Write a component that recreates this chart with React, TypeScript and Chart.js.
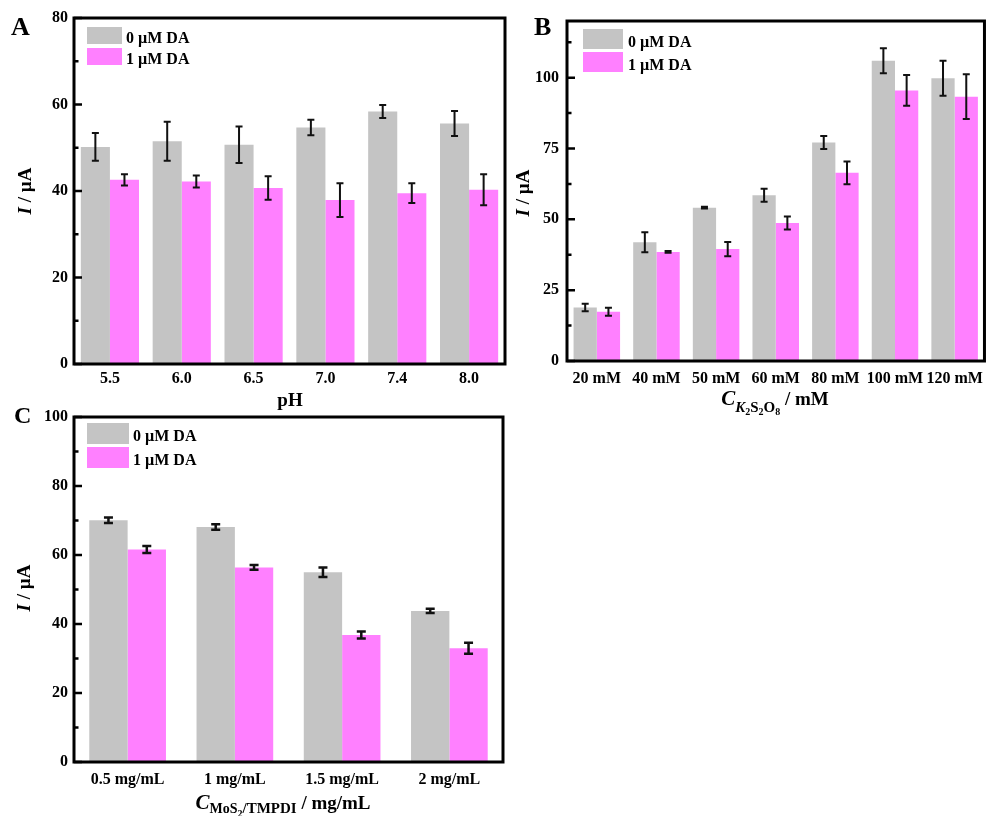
import React, { useEffect, useRef } from 'react';
import { Chart, registerables } from 'chart.js';

Chart.register(...registerables);

// ---------------- DATA ----------------
const seriesNames = ['0 µM DA', '1 µM DA'];

// Panel A : pH
const phLabels = ['5.5', '6.0', '6.5', '7.0', '7.4', '8.0'];
const ph0 = [50.2, 51.5, 50.7, 54.7, 58.4, 55.6];
const ph0Err = [3.2, 4.5, 4.2, 1.8, 1.5, 2.9];
const ph1 = [42.6, 42.2, 40.7, 37.9, 39.5, 40.3];
const ph1Err = [1.3, 1.4, 2.7, 3.9, 2.3, 3.6];
const phYTicks = [0, 20, 40, 60, 80];

// Panel B : K2S2O8 concentration
const kLabels = ['20 mM', '40 mM', '50 mM', '60 mM', '80 mM', '100 mM', '120 mM'];
const k0 = [18.9, 41.9, 54.1, 58.5, 77.1, 106.0, 99.8];
const k0Err = [1.3, 3.5, 0.3, 2.3, 2.3, 4.4, 6.2];
const k1 = [17.4, 38.5, 39.5, 48.7, 66.4, 95.5, 93.3];
const k1Err = [1.4, 0.3, 2.5, 2.3, 4.0, 5.4, 7.9];
const kYTicks = [0, 25, 50, 75, 100];

// Panel C : MoS2/TMPDI concentration
const mLabels = ['0.5 mg/mL', '1 mg/mL', '1.5 mg/mL', '2 mg/mL'];
const m0 = [70.1, 68.1, 55.0, 43.8];
const m0Err = [0.8, 0.8, 1.4, 0.6];
const m1 = [61.6, 56.4, 36.8, 33.0];
const m1Err = [1.0, 0.7, 1.0, 1.6];
const mYTicks = [0, 20, 40, 60, 80, 100];

// ---------------- STYLE ----------------
const FONT = "'Liberation Serif', 'Times New Roman', Times, serif";
const GRAY = '#c4c4c4';
const PINK = '#ff80ff';

type Seg = { t: string; f: string; dy: number };

type PanelCfg = {
  key: string;
  letter: string;
  letterX: number;
  letterY: number;
  letterSize: number;
  labels: string[];
  s0: number[];
  e0: number[];
  s1: number[];
  e1: number[];
  yTicks: number[];
  yMax: number;
  canvas: { x: number; y: number; w: number; h: number };
  area: { left: number; top: number; right: number; bottom: number };
  catPct: number;
  xPad: number;
  yPad: number;
  cap: number;
  errLW: number;
  legend: { left: number; top: number; w: number; h: number; step: number; textDx: number; baseDy: number };
  yTitle: { x: number; y: number };
  xTitle: { cx: number; base: number; segs: Seg[] };
};

const panels: PanelCfg[] = [
  {
    key: 'A',
    letter: 'A',
    letterX: 11,
    letterY: 35,
    letterSize: 26,
    labels: phLabels,
    s0: ph0,
    e0: ph0Err,
    s1: ph1,
    e1: ph1Err,
    yTicks: phYTicks,
    yMax: 80,
    canvas: { x: 0, y: 0, w: 510, h: 412 },
    area: { left: 74, top: 18, right: 505, bottom: 364 },
    catPct: 0.81,
    xPad: 5,
    yPad: 6,
    cap: 3.5,
    errLW: 2,
    legend: { left: 87, top: 27, w: 35, h: 17, step: 21, textDx: 4, baseDy: 16 },
    yTitle: { x: 31, y: 191 },
    xTitle: { cx: 290, base: 406, segs: [{ t: 'pH', f: `bold 19px ${FONT}`, dy: 0 }] },
  },
  {
    key: 'B',
    letter: 'B',
    letterX: 534,
    letterY: 35,
    letterSize: 26,
    labels: kLabels,
    s0: k0,
    e0: k0Err,
    s1: k1,
    e1: k1Err,
    yTicks: kYTicks,
    yMax: 120,
    canvas: { x: 510, y: 0, w: 481, h: 415 },
    area: { left: 567, top: 21, right: 989, bottom: 361 },
    catPct: 0.78,
    xPad: 8,
    yPad: 8,
    cap: 3.5,
    errLW: 2,
    legend: { left: 583, top: 29, w: 40, h: 20, step: 23, textDx: 5, baseDy: 18 },
    yTitle: { x: 529, y: 193 },
    xTitle: {
      cx: 775,
      base: 405,
      segs: [
        { t: 'C', f: `italic bold 21px ${FONT}`, dy: 0 },
        { t: 'K', f: `italic bold 15px ${FONT}`, dy: 7 },
        { t: '2', f: `bold 10px ${FONT}`, dy: 10 },
        { t: 'S', f: `bold 15px ${FONT}`, dy: 7 },
        { t: '2', f: `bold 10px ${FONT}`, dy: 10 },
        { t: 'O', f: `bold 15px ${FONT}`, dy: 7 },
        { t: '8', f: `bold 10px ${FONT}`, dy: 10 },
        { t: ' / mM', f: `bold 19px ${FONT}`, dy: 0 },
      ],
    },
  },
  {
    key: 'C',
    letter: 'C',
    letterX: 14,
    letterY: 423,
    letterSize: 24,
    labels: mLabels,
    s0: m0,
    e0: m0Err,
    s1: m1,
    e1: m1Err,
    yTicks: mYTicks,
    yMax: 100,
    canvas: { x: 0, y: 398, w: 510, h: 418 },
    area: { left: 74, top: 417, right: 503, bottom: 762 },
    catPct: 0.715,
    xPad: 8,
    yPad: 6,
    cap: 4.5,
    errLW: 2.5,
    legend: { left: 87, top: 423, w: 42, h: 21, step: 24, textDx: 4, baseDy: 18 },
    yTitle: { x: 30, y: 588 },
    xTitle: {
      cx: 283,
      base: 809,
      segs: [
        { t: 'C', f: `italic bold 21px ${FONT}`, dy: 0 },
        { t: 'MoS', f: `bold 14px ${FONT}`, dy: 4 },
        { t: '2', f: `bold 10px ${FONT}`, dy: 8 },
        { t: '/TMPDI', f: `bold 15px ${FONT}`, dy: 4 },
        { t: ' / mg/mL', f: `bold 19px ${FONT}`, dy: 0 },
      ],
    },
  },
];

function drawSegs(ctx: CanvasRenderingContext2D, segs: Seg[], startX: number, base: number) {
  let x = startX;
  segs.forEach((s) => {
    ctx.font = s.f;
    ctx.fillText(s.t, x, base + s.dy);
    x += ctx.measureText(s.t).width;
  });
}

function segsWidth(ctx: CanvasRenderingContext2D, segs: Seg[]) {
  let w = 0;
  segs.forEach((s) => {
    ctx.font = s.f;
    w += ctx.measureText(s.t).width;
  });
  return w;
}

function makeDecor(p: PanelCfg) {
  const ox = p.canvas.x;
  const oy = p.canvas.y;
  return {
    id: 'decor' + p.key,
    afterDatasetsDraw(chart: any) {
      const ctx: CanvasRenderingContext2D = chart.ctx;
      const ys = chart.scales.y;
      ctx.save();
      ctx.strokeStyle = '#111';
      ctx.lineWidth = p.errLW;
      chart.data.datasets.forEach((ds: any, i: number) => {
        const meta = chart.getDatasetMeta(i);
        meta.data.forEach((el: any, j: number) => {
          const v = ds.data[j];
          const e = ds.errors[j];
          const yt = ys.getPixelForValue(v + e);
          const yb = ys.getPixelForValue(v - e);
          const x = el.x;
          ctx.beginPath();
          ctx.moveTo(x, yt);
          ctx.lineTo(x, yb);
          ctx.moveTo(x - p.cap, yt);
          ctx.lineTo(x + p.cap, yt);
          ctx.moveTo(x - p.cap, yb);
          ctx.lineTo(x + p.cap, yb);
          ctx.stroke();
        });
      });
      ctx.restore();
    },
    afterDraw(chart: any) {
      const ctx: CanvasRenderingContext2D = chart.ctx;
      const a = chart.chartArea;
      const ys = chart.scales.y;
      ctx.save();
      // frame
      ctx.strokeStyle = '#000';
      ctx.lineWidth = 3;
      ctx.strokeRect(a.left, a.top, a.right - a.left, a.bottom - a.top);
      // inward ticks (major + minor)
      ctx.lineWidth = 2.5;
      const tv = p.yTicks;
      ctx.beginPath();
      tv.forEach((v) => {
        const y = ys.getPixelForValue(v);
        ctx.moveTo(a.left, y);
        ctx.lineTo(a.left + 8, y);
      });
      const step = tv[1] - tv[0];
      for (let v = tv[0] + step / 2; v < p.yMax; v += step) {
        const y = ys.getPixelForValue(v);
        ctx.moveTo(a.left, y);
        ctx.lineTo(a.left + 4.5, y);
      }
      ctx.stroke();

      // legend
      const L = p.legend;
      const cols = [GRAY, PINK];
      ctx.textBaseline = 'alphabetic';
      ctx.textAlign = 'left';
      cols.forEach((c, i) => {
        const top = L.top + i * L.step - oy;
        ctx.fillStyle = c;
        ctx.fillRect(L.left - ox, top, L.w, L.h);
        ctx.fillStyle = '#000';
        ctx.font = `bold 16px ${FONT}`;
        ctx.fillText(seriesNames[i], L.left - ox + L.w + L.textDx, top + L.baseDy);
      });

      // panel letter
      ctx.fillStyle = '#000';
      ctx.font = `bold ${p.letterSize}px ${FONT}`;
      ctx.fillText(p.letter, p.letterX - ox, p.letterY - oy);

      // y title (rotated)
      const ySegs: Seg[] = [
        { t: 'I', f: `italic bold 19px ${FONT}`, dy: 0 },
        { t: ' / µA', f: `bold 19px ${FONT}`, dy: 0 },
      ];
      ctx.save();
      ctx.translate(p.yTitle.x - ox, p.yTitle.y - oy);
      ctx.rotate(-Math.PI / 2);
      const yw = segsWidth(ctx, ySegs);
      drawSegs(ctx, ySegs, -yw / 2, 0);
      ctx.restore();

      // x title
      const xw = segsWidth(ctx, p.xTitle.segs);
      drawSegs(ctx, p.xTitle.segs, p.xTitle.cx - ox - xw / 2, p.xTitle.base - oy);
      ctx.restore();
    },
  };
}

function Panel({ p }: { p: PanelCfg }) {
  const ref = useRef<HTMLCanvasElement | null>(null);
  useEffect(() => {
    if (!ref.current) return;
    const c = p.canvas;
    const a = p.area;
    const chart = new Chart(ref.current, {
      type: 'bar',
      data: {
        labels: p.labels,
        datasets: [
          { label: seriesNames[0], data: p.s0, errors: p.e0, backgroundColor: GRAY, borderWidth: 0 } as any,
          { label: seriesNames[1], data: p.s1, errors: p.e1, backgroundColor: PINK, borderWidth: 0 } as any,
        ],
      },
      options: {
        responsive: false,
        animation: false,
        devicePixelRatio: 1,
        layout: {
          padding: { left: 0, top: a.top - c.y, right: c.x + c.w - a.right, bottom: 0 },
        },
        datasets: { bar: { categoryPercentage: p.catPct, barPercentage: 1 } },
        plugins: { legend: { display: false }, tooltip: { enabled: false }, title: { display: false } },
        scales: {
          x: {
            type: 'category',
            grid: { display: false, drawTicks: false },
            border: { display: false },
            ticks: {
              color: '#000',
              font: { family: FONT, size: 16, weight: 'bold' },
              padding: p.xPad,
              maxRotation: 0,
              minRotation: 0,
              autoSkip: false,
            },
            afterFit: (s: any) => {
              s.height = c.y + c.h - a.bottom;
            },
          },
          y: {
            type: 'linear',
            min: 0,
            max: p.yMax,
            grid: { display: false, drawTicks: false },
            border: { display: false },
            ticks: {
              color: '#000',
              font: { family: FONT, size: 16, weight: 'bold' },
              padding: p.yPad,
            },
            afterBuildTicks: (s: any) => {
              s.ticks = p.yTicks.map((v) => ({ value: v }));
            },
            afterFit: (s: any) => {
              s.width = a.left - c.x;
            },
          },
        },
      } as any,
      plugins: [makeDecor(p)],
    });
    return () => chart.destroy();
  }, [p]);
  return (
    <canvas
      ref={ref}
      width={p.canvas.w}
      height={p.canvas.h}
      style={{
        position: 'absolute',
        left: p.canvas.x,
        top: p.canvas.y,
        width: p.canvas.w,
        height: p.canvas.h,
        display: 'block',
      }}
    />
  );
}

export default function App() {
  return (
    <div
      style={{
        position: 'fixed',
        left: 0,
        top: 0,
        width: 991,
        height: 816,
        background: '#fff',
        overflow: 'hidden',
      }}
    >
      {panels.map((p) => (
        <Panel key={p.key} p={p} />
      ))}
    </div>
  );
}
